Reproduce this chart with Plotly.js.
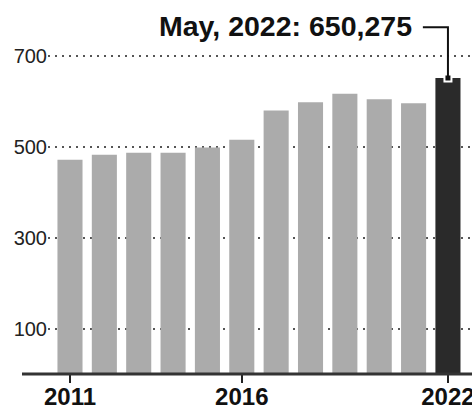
<!DOCTYPE html>
<html>
<head>
<meta charset="utf-8">
<script src="https://cdn.plot.ly/plotly-3.0.1.min.js"></script>
<style>
  html, body { margin: 0; padding: 0; background: #fff; }
  #chart { width: 472px; height: 405px; }
</style>
</head>
<body>
<div id="chart"></div>
<script>
// Data (thousands)
const years = [2011, 2012, 2013, 2014, 2015, 2016, 2017, 2018, 2019, 2020, 2021, 2022];
const values = [471, 482, 486, 486, 498, 515, 579, 597, 616, 604, 595, 650.275];
const xTickVals = [2011, 2016, 2022];
const xTickText = ['2011', '2016', '2022'];
const yTickVals = [100, 300, 500, 700];
const yTickText = ['100', '300', '500', '700'];
const calloutText = 'May, 2022: 650,275';

const lastIdx = years.length - 1;
const barColors = years.map((y, i) => i === lastIdx ? '#2a2a2a' : '#ababab');

const FONT = 'Liberation Sans, Arial, Helvetica, sans-serif';
const calloutY = 762;        // height of the callout line (data units)
const calloutLeftX = years[lastIdx] - 0.73; // where horizontal connector ends

const bars = {
  type: 'bar',
  x: years,
  y: values,
  width: 0.73,
  marker: { color: barColors, line: { width: 0 } },
  hoverinfo: 'skip'
};

const dot = {
  type: 'scatter',
  mode: 'markers',
  x: [years[lastIdx]],
  y: [values[lastIdx]],
  marker: { symbol: 'square', size: 7, color: '#111', line: { color: '#ffffff', width: 2 } },
  hoverinfo: 'skip',
  cliponaxis: false
};

const layout = {
  width: 472,
  height: 405,
  margin: { l: 48, r: 0, t: 10, b: 31, pad: 0 },
  paper_bgcolor: '#ffffff',
  plot_bgcolor: '#ffffff',
  showlegend: false,
  font: { family: FONT, color: '#222' },
  xaxis: {
    range: [2010.36, 2022.70],
    tickmode: 'array',
    tickvals: xTickVals,
    ticktext: xTickText,
    ticks: 'outside',
    ticklen: 8,
    tickwidth: 2,
    tickcolor: '#222',
    ticklabelstandoff: -7,
    ticklabeloverflow: 'allow',
    tickfont: { family: FONT, size: 24, color: '#111', weight: 'bold' },
    showgrid: false,
    zeroline: false,
    showline: false,
    automargin: false,
    fixedrange: true
  },
  yaxis: {
    range: [0, 800],
    tickmode: 'array',
    tickvals: yTickVals,
    ticktext: yTickText,
    ticks: '',
    tickfont: { family: FONT, size: 20, color: '#222' },
    showgrid: true,
    gridcolor: '#555',
    gridwidth: 2,
    griddash: '2px,5px',
    zeroline: false,
    showline: false,
    automargin: false,
    fixedrange: true
  },
  shapes: [
    {
      type: 'line', xref: 'paper', yref: 'paper',
      x0: -26 / 424, x1: 1.05, y0: 0, y1: 0,
      line: { color: '#333', width: 3 },
      layer: 'above'
    },
    {
      type: 'path', xref: 'x', yref: 'y',
      path: 'M ' + years[lastIdx] + ',' + values[lastIdx] +
            ' L ' + years[lastIdx] + ',' + calloutY +
            ' L ' + calloutLeftX + ',' + calloutY,
      line: { color: '#111', width: 2 },
      layer: 'above'
    }
  ],
  annotations: [
    {
      xref: 'x', yref: 'y',
      x: calloutLeftX, y: calloutY,
      xanchor: 'right', yanchor: 'middle',
      xshift: -9, yshift: 1,
      text: '<b>' + calloutText + '</b>',
      showarrow: false,
      font: { family: FONT, size: 28.5, color: '#111' }
    }
  ]
};

Plotly.newPlot('chart', [bars, dot], layout, { staticPlot: true, displayModeBar: false });
</script>
</body>
</html>
